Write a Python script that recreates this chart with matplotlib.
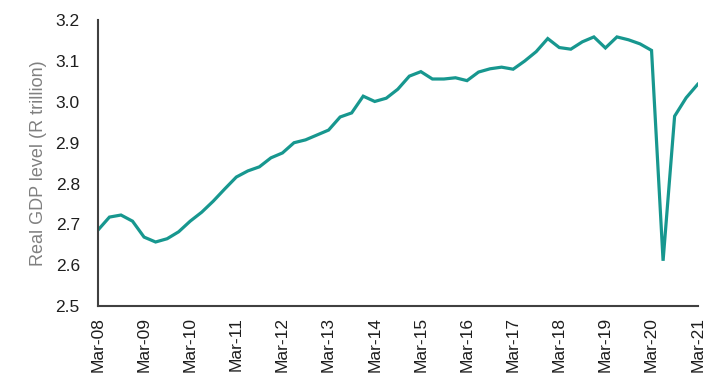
import matplotlib
matplotlib.use("Agg")
import matplotlib.pyplot as plt
from matplotlib import font_manager

quarters = list(range(53))
tick_labels = ["Mar-08", "Mar-09", "Mar-10", "Mar-11", "Mar-12", "Mar-13", "Mar-14",
               "Mar-15", "Mar-16", "Mar-17", "Mar-18", "Mar-19", "Mar-20", "Mar-21"]
gdp = [2.686, 2.718, 2.723, 2.708, 2.669, 2.657, 2.665, 2.682,
       2.708, 2.730, 2.757, 2.787, 2.816, 2.831, 2.841, 2.863,
       2.875, 2.900, 2.907, 2.919, 2.931, 2.963, 2.973, 3.014,
       3.001, 3.009, 3.031, 3.063, 3.074, 3.056, 3.056, 3.059,
       3.052, 3.073, 3.081, 3.085, 3.080, 3.100, 3.123, 3.155,
       3.133, 3.129, 3.147, 3.159, 3.132, 3.159, 3.152, 3.142,
       3.126, 2.611, 2.965, 3.010, 3.043]

names = {f.name for f in font_manager.fontManager.ttflist}
fam = [f for f in ["Liberation Sans Narrow", "Liberation Sans", "DejaVu Sans"] if f in names]
plt.rcParams['font.family'] = fam

fig = plt.figure(figsize=(7.2, 3.88), dpi=100)
ax = fig.add_axes([0.136, 0.211, 0.833, 0.737])
ax.plot(quarters, gdp, color="#17978F", linewidth=2.3, solid_joinstyle="miter")

ax.set_xlim(0, 52)
ax.set_ylim(2.5, 3.2)
ax.set_yticks([2.5, 2.6, 2.7, 2.8, 2.9, 3.0, 3.1, 3.2])
ax.set_yticklabels([f"{v:.1f}" for v in [2.5, 2.6, 2.7, 2.8, 2.9, 3.0, 3.1, 3.2]])
ax.set_xticks(list(range(0, 53, 4)))
ax.set_xticklabels(tick_labels, rotation=90)
ax.tick_params(axis="both", length=0, labelsize=12.5, labelcolor="#1e1e1e")
ax.tick_params(axis="y", pad=13)
ax.tick_params(axis="x", pad=8)

for s in ["top", "right"]:
    ax.spines[s].set_visible(False)
for s in ["left", "bottom"]:
    ax.spines[s].set_color("#404040")
    ax.spines[s].set_linewidth(1.5)

ax.set_ylabel("Real GDP level (R trillion)", color="#808080", fontsize=13, labelpad=6)

fig.savefig("out.png", dpi=100)
